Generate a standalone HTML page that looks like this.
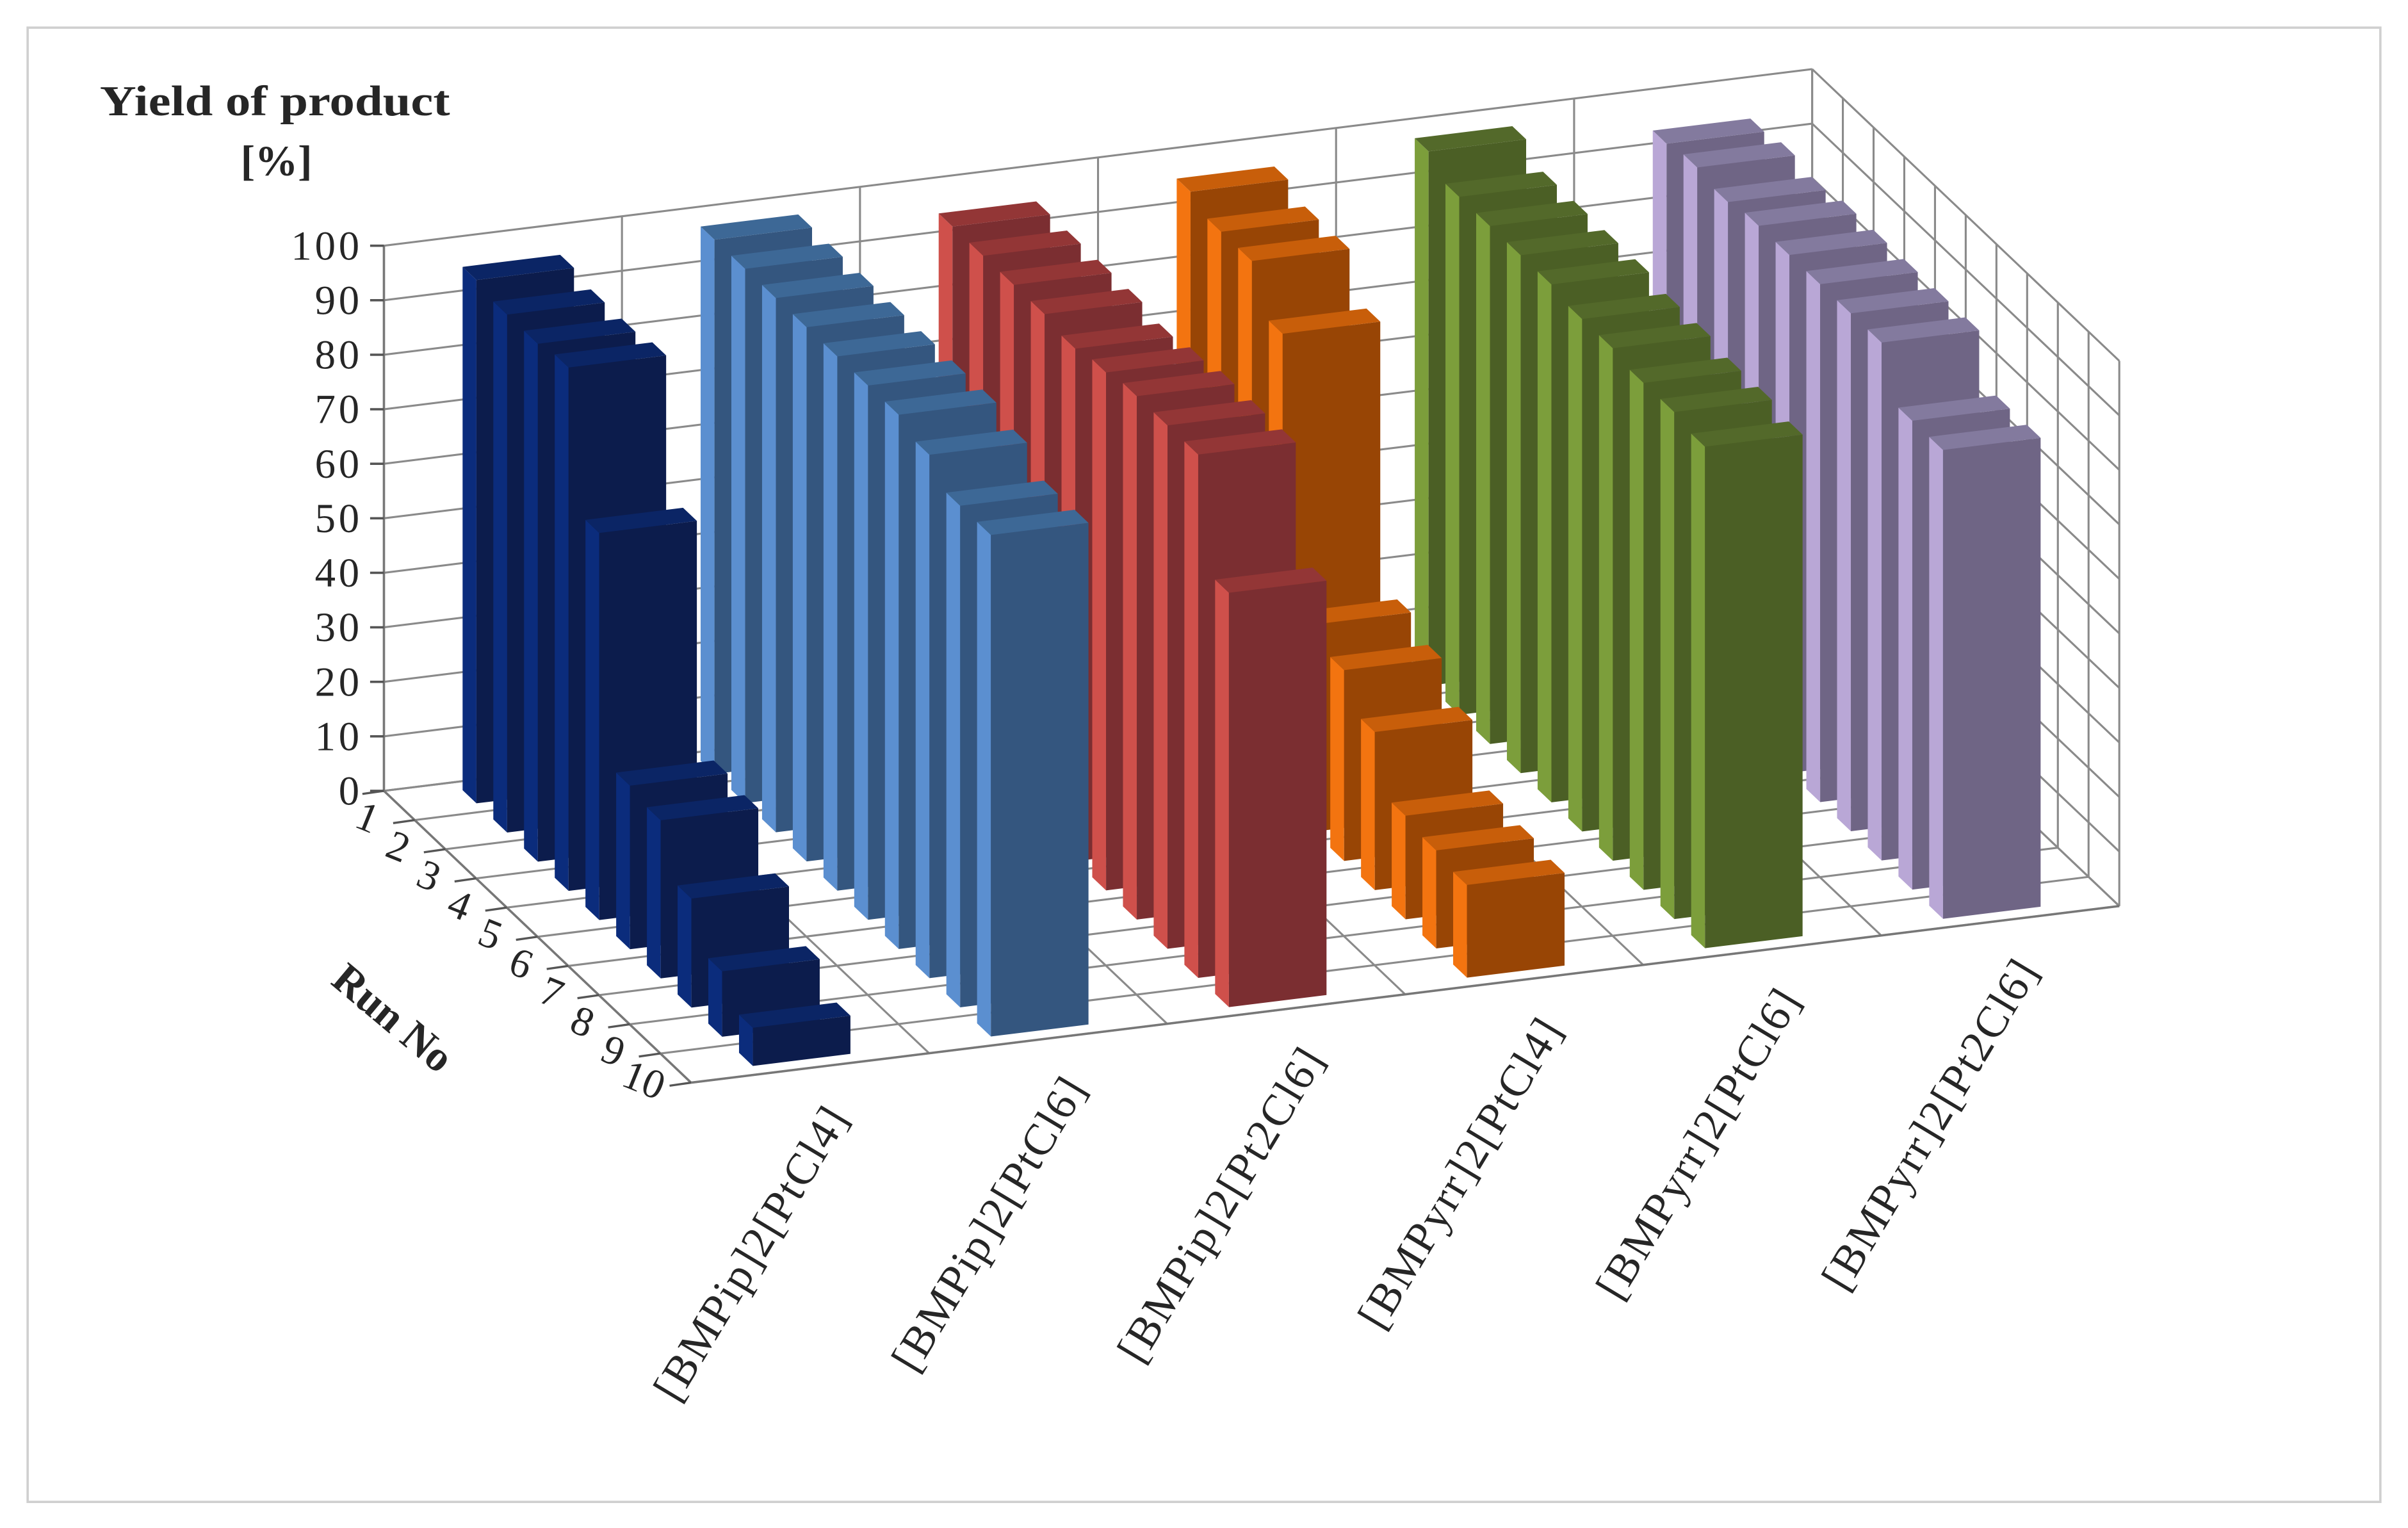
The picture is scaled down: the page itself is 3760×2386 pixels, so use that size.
<!DOCTYPE html>
<html><head><meta charset="utf-8">
<style>
html,body{margin:0;padding:0;background:#fff;}
svg{display:block;}
text{font-family:"Liberation Serif",serif;fill:#262626;}
</style></head>
<body>
<svg id="chart" width="3760" height="2386" viewBox="0 0 1568 995" preserveAspectRatio="none" xmlns="http://www.w3.org/2000/svg">
<rect x="18" y="18" width="1532" height="960" fill="#fff" stroke="#cfcfcf" stroke-width="1.5"/>
<g id="grid"></g>
<g id="axes"></g>
<g id="bars"></g>
<g id="labels"></g>
<text x="179" y="75" font-size="28" font-weight="bold" text-anchor="middle" textLength="228" lengthAdjust="spacingAndGlyphs" fill="#1a1a1a">Yield of product</text>
<text x="180" y="114" font-size="28" font-weight="bold" text-anchor="middle" fill="#1a1a1a">[%]</text>
<text x="250" y="670" font-size="28" font-weight="bold" text-anchor="middle" fill="#1a1a1a" transform="rotate(40 250 670)">Run No</text>
</svg>
<script>
const categories = ["[BMPip]2[PtCl4]","[BMPip]2[PtCl6]","[BMPip]2[Pt2Cl6]","[BMPyrr]2[PtCl4]","[BMPyrr]2[PtCl6]","[BMPyrr]2[Pt2Cl6]"];
const runs = ["1","2","3","4","5","6","7","8","9","10"];
const yTicks = [0,10,20,30,40,50,60,70,80,90,100];
const seriesBMPipPtCl4 = [96,95,95,96,71,30,29,20,12,7];
const seriesBMPipPtCl6 = [98,98,98,98,98,98,98,96,92,92];
const seriesBMPipPt2Cl6 = [95,95,95,95,94,95,96,96,96,76];
const seriesBMPyrrPtCl4 = [96,94,94,86,38,35,29,19,18,17];
const seriesBMPyrrPtCl6 = [98,95,95,95,95,94,94,93,93,92];
const seriesBMPyrrPt2Cl6 = [94,95,94,95,95,95,95,95,86,86];
const allSeries = [seriesBMPipPtCl4,seriesBMPipPtCl6,seriesBMPipPt2Cl6,seriesBMPyrrPtCl4,seriesBMPyrrPtCl6,seriesBMPyrrPt2Cl6];
const palettes = [
  {front:"#0c1c4c",left:"#0b2c7c",top:"#0b2565"},
  {front:"#34567f",left:"#5b8fd0",top:"#3d6896"},
  {front:"#7b2e31",left:"#cf504b",top:"#933636"},
  {front:"#984505",left:"#f37410",top:"#c85e0a"},
  {front:"#4b5f25",left:"#7c9e3b",top:"#53692a"},
  {front:"#6f6585",left:"#b9a7d6",top:"#837a9e"}
];
const NS="http://www.w3.org/2000/svg";
const OX=250, OY=515, XW=930, XH=-115, ZW=200, ZH=190, VS=3.55;
function P(x,z,v){return [OX+x*XW+z*ZW, OY+x*XH+z*ZH-v*VS];}
function xScale(c){return (c)/categories.length;}
function zScale(r){return r/runs.length;}
function mk(tag,attrs,parent){const e=document.createElementNS(NS,tag);for(const k in attrs)e.setAttribute(k,attrs[k]);parent.appendChild(e);return e;}
function pts(a){return a.map(p=>p[0].toFixed(2)+","+p[1].toFixed(2)).join(" ");}
const grid=document.getElementById("grid"), axes=document.getElementById("axes"), bars=document.getElementById("bars"), labels=document.getElementById("labels");
const gc="#8a8a8a";
yTicks.forEach(t=>{const a=P(0,0,t),b=P(1,0,t);
 const l=mk("line",{x1:a[0],y1:a[1],x2:b[0],y2:b[1],stroke:gc,"stroke-width":1.3},grid);
 
 
 const c=P(1,0,t),d=P(1,1,t);
 const l2=mk("line",{x1:c[0],y1:c[1],x2:d[0],y2:d[1],stroke:gc,"stroke-width":1.3},grid);
 
 
});
for(let c=0;c<=categories.length;c++){const x=xScale(c);
 const a=P(x,0,0),b=P(x,0,100);
 const l=mk("line",{x1:a[0],y1:a[1],x2:b[0],y2:b[1],stroke:gc,"stroke-width":1.3},grid);
 
 
 const f=P(x,1,0);
 const l2=mk("line",{x1:a[0],y1:a[1],x2:f[0],y2:f[1],stroke:gc,"stroke-width":1.3},grid);
 
 
}
for(let r=0;r<=runs.length;r++){const z=zScale(r);
 const a=P(0,z,0),b=P(1,z,0),c=P(1,z,100);
 const l=mk("line",{x1:a[0],y1:a[1],x2:b[0],y2:b[1],stroke:gc,"stroke-width":1.3},grid);
 
 
 const l2=mk("line",{x1:b[0],y1:b[1],x2:c[0],y2:c[1],stroke:gc,"stroke-width":1.3},grid);
 
 
}
{const a=P(0,0,0),b=P(0,0,100);
 const l=mk("line",{x1:a[0],y1:a[1],x2:b[0],y2:b[1],stroke:"#777","stroke-width":1.5},axes);
 
 }
yTicks.forEach(t=>{const a=P(0,0,t);
 const l=mk("line",{x1:a[0]-9,y1:a[1],x2:a[0],y2:a[1],stroke:"#555","stroke-width":1.5},axes);
 
 
 const tx=mk("text",{x:a[0]-14,y:a[1]+9,"font-size":27,"letter-spacing":"2","text-anchor":"end"},labels);
 tx.textContent=t;
 
 
});
{const a=P(0,0,0),b=P(0,1,0);
 const l=mk("line",{x1:a[0],y1:a[1],x2:b[0],y2:b[1],stroke:"#777","stroke-width":1.5},axes);
 
 
 const c=P(1,1,0);
 const l2=mk("line",{x1:b[0],y1:b[1],x2:c[0],y2:c[1],stroke:"#777","stroke-width":1.5},axes);
 
 }
for(let r=0;r<=runs.length;r++){const a=P(0,zScale(r),0);
 const l=mk("line",{x1:a[0]-14,y1:a[1]+2,x2:a[0],y2:a[1],stroke:"#555","stroke-width":1.4},axes);
 
 }
runs.forEach((r,i)=>{const a=P(0,zScale(i+0.5),0);const x=a[0]-24,y=a[1]+16;
 const tx=mk("text",{x:x,y:y,"font-size":27,"text-anchor":"middle",transform:`rotate(22 ${x} ${y})`},labels);
 tx.textContent=r;
 
 });
categories.forEach((c,i)=>{const a=P(xScale(i+0.5),1,0);const x=a[0]+26,y=a[1]+32;
 const tx=mk("text",{x:x,y:y,"font-size":29,"letter-spacing":"1","text-anchor":"end",transform:`rotate(-59 ${x} ${y})`},labels);
 tx.textContent=c;
 
 });
const BW=0.41, BD=0.45;
const list=[];
allSeries.forEach((s,c)=>s.forEach((v,r)=>list.push({c,r,v})));
list.sort((a,b)=>a.r-b.r || b.c-a.c);
list.forEach(({c,r,v})=>{
 const x0=xScale(c+0.5-BW/2), x1=xScale(c+0.5+BW/2);
 const z0=zScale(r+0.5-BD/2), z1=zScale(r+0.5+BD/2);
 const pal=palettes[c];
 const g=mk("g",{},bars);
 
 
 mk("polygon",{points:pts([P(x0,z0,0),P(x0,z1,0),P(x0,z1,v),P(x0,z0,v)]),fill:pal.left},g);
 mk("polygon",{points:pts([P(x0,z1,0),P(x1,z1,0),P(x1,z1,v),P(x0,z1,v)]),fill:pal.front},g);
 mk("polygon",{points:pts([P(x0,z0,v),P(x1,z0,v),P(x1,z1,v),P(x0,z1,v)]),fill:pal.top},g);
});
</script>
</body></html>
